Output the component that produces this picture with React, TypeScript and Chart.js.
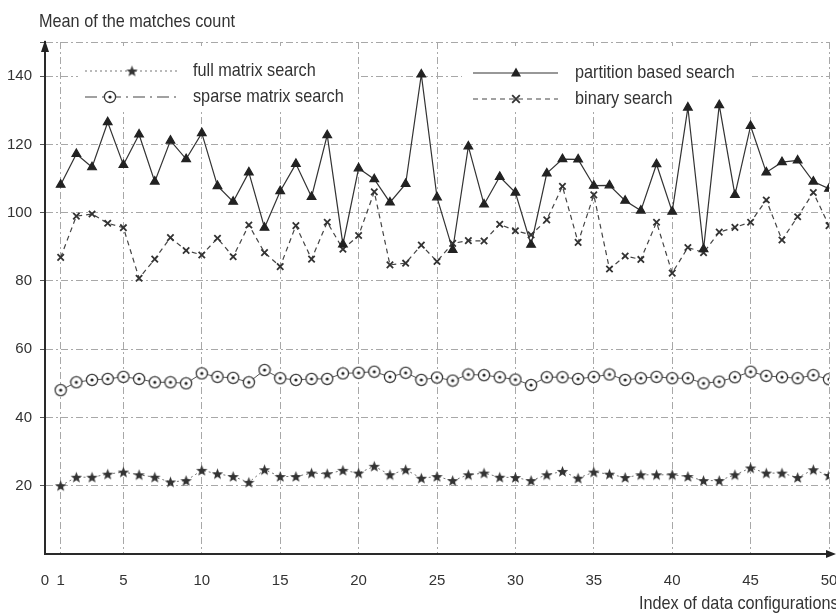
import React, { useEffect, useRef } from "react";
import { Chart, registerables } from "chart.js";

Chart.register(...registerables);

const IDX = [1, 2, 3, 4, 5, 6, 7, 8, 9, 10, 11, 12, 13, 14, 15, 16, 17, 18, 19, 20, 21, 22, 23, 24, 25, 26, 27, 28, 29, 30, 31, 32, 33, 34, 35, 36, 37, 38, 39, 40, 41, 42, 43, 44, 45, 46, 47, 48, 49, 50];

const FULL = [20.0, 22.5, 22.5, 23.4, 24.0, 23.2, 22.5, 21.1, 21.5, 24.5,
  23.5, 22.7, 21.0, 24.7, 22.7, 22.7, 23.7, 23.5, 24.5, 23.7,
  25.7, 23.2, 24.7, 22.2, 22.7, 21.5, 23.2, 23.7, 22.5, 22.4,
  21.5, 23.2, 24.2, 22.2, 24.0, 23.4, 22.4, 23.2, 23.2, 23.2,
  22.7, 21.5, 21.5, 23.2, 25.2, 23.7, 23.7, 22.4, 24.7, 23.0];

const SPARSE = [48.0, 50.3, 51.0, 51.3, 51.9, 51.3, 50.3, 50.3, 50.0, 52.9,
  51.9, 51.6, 50.3, 53.9, 51.5, 51.0, 51.3, 51.3, 52.9, 53.1,
  53.4, 51.9, 53.1, 51.0, 51.7, 50.8, 52.6, 52.4, 51.8, 51.1,
  49.5, 51.8, 51.8, 51.3, 51.9, 52.6, 51.0, 51.5, 51.9, 51.5,
  51.5, 50.0, 50.5, 51.8, 53.4, 52.2, 51.8, 51.5, 52.4, 51.2];

const PARTITION = [108.2, 117.2, 113.3, 126.5, 114.0, 122.9, 109.1, 121.1, 115.7, 123.3,
  107.8, 103.2, 111.8, 95.6, 106.3, 114.3, 104.6, 122.7, 90.7, 113.0,
  109.8, 103.0, 108.4, 140.5, 104.5, 89.1, 119.4, 102.4, 110.5, 105.9,
  90.6, 111.5, 115.7, 115.6, 107.9, 108.0, 103.5, 100.6, 114.2, 100.3,
  130.8, 89.3, 131.5, 105.2, 125.4, 111.8, 114.8, 115.3, 109.1, 107.0];

const BINARY = [86.9, 99.0, 99.6, 96.9, 95.6, 80.8, 86.4, 92.7, 88.9, 87.6,
  92.5, 87.1, 96.4, 88.3, 84.2, 96.2, 86.4, 97.2, 89.3, 93.3,
  106.1, 84.7, 85.2, 90.5, 85.7, 91.0, 91.8, 91.7, 96.6, 94.7,
  93.5, 97.9, 107.7, 91.3, 105.2, 83.5, 87.3, 86.3, 97.2, 82.3,
  89.8, 88.3, 94.3, 95.7, 97.2, 103.7, 92.0, 98.8, 105.9, 96.2];

const SERIES_NAMES = ["full matrix search", "sparse matrix search", "partition based search", "binary search"];
const X_TICKS = [0, 1, 5, 10, 15, 20, 25, 30, 35, 40, 45, 50];
const Y_TICKS = [20, 40, 60, 80, 100, 120, 140];
const Y_MAX = 150;
const X_TITLE = "Index of data configurations";
const Y_TITLE = "Mean of the matches count";

const FONT = "'Liberation Sans', Arial, sans-serif";
const INK = "#2a2a2a";
const GRID = "#a8a8a8";
const NARROW = 0.855;

function makeStar(): HTMLCanvasElement {
  const c = document.createElement("canvas");
  c.width = 13; c.height = 13;
  const g = c.getContext("2d")!;
  g.fillStyle = "#333";
  g.beginPath();
  for (let k = 0; k < 10; k++) {
    const r = k % 2 === 0 ? 6 : 2.5;
    const a = -Math.PI / 2 + (k * Math.PI) / 5;
    const px = 6.5 + r * Math.cos(a);
    const py = 7 + r * Math.sin(a);
    if (k === 0) g.moveTo(px, py); else g.lineTo(px, py);
  }
  g.closePath();
  g.fill();
  return c;
}

function makeCircleDot(): HTMLCanvasElement {
  const c = document.createElement("canvas");
  c.width = 14; c.height = 14;
  const g = c.getContext("2d")!;
  g.fillStyle = "#fff";
  g.strokeStyle = "#3a3a3a";
  g.lineWidth = 1.3;
  g.beginPath();
  g.arc(7, 7, 5.6, 0, Math.PI * 2);
  g.fill();
  g.stroke();
  g.fillStyle = "#222";
  g.beginPath();
  g.arc(7, 7, 1.6, 0, Math.PI * 2);
  g.fill();
  return c;
}

function narrowText(ctx: CanvasRenderingContext2D, text: string, x: number, y: number, size: number) {
  ctx.save();
  ctx.translate(x, y);
  ctx.scale(NARROW, 1);
  ctx.font = `${size}px ${FONT}`;
  ctx.fillStyle = "#333";
  ctx.textAlign = "left";
  ctx.textBaseline = "middle";
  ctx.fillText(text, 0, 0);
  ctx.restore();
}

export default function App() {
  const ref = useRef<HTMLCanvasElement | null>(null);

  useEffect(() => {
    if (!ref.current) return;
    const star = makeStar();
    const circ = makeCircleDot();
    const pts = (arr: number[]) => IDX.map((x, i) => ({ x, y: arr[i] }));

    const drawMarker = (ctx: CanvasRenderingContext2D, kind: string, x: number, y: number) => {
      if (kind === "star") ctx.drawImage(star, x - 6.5, y - 6.5);
      else if (kind === "circ") ctx.drawImage(circ, x - 7, y - 7);
      else if (kind === "tri") {
        ctx.fillStyle = "#222";
        ctx.beginPath();
        ctx.moveTo(x, y - 5.5);
        ctx.lineTo(x + 5, y + 3.5);
        ctx.lineTo(x - 5, y + 3.5);
        ctx.closePath();
        ctx.fill();
      } else {
        ctx.strokeStyle = "#333";
        ctx.lineWidth = 1.8;
        ctx.setLineDash([]);
        ctx.beginPath();
        ctx.moveTo(x - 3.8, y - 3.8); ctx.lineTo(x + 3.8, y + 3.8);
        ctx.moveTo(x + 3.8, y - 3.8); ctx.lineTo(x - 3.8, y + 3.8);
        ctx.stroke();
      }
    };

    const legendItems = [
      { name: SERIES_NAMES[0], kind: "star", dash: [2, 3], color: "#777", x0: 85, x1: 178, mx: 132, tx: 193, y: 71 },
      { name: SERIES_NAMES[1], kind: "circ", dash: [12, 5, 2, 5], color: "#444", x0: 85, x1: 178, mx: 110, tx: 193, y: 97 },
      { name: SERIES_NAMES[2], kind: "tri", dash: [], color: "#333", x0: 473, x1: 558, mx: 516, tx: 575, y: 73 },
      { name: SERIES_NAMES[3], kind: "cross", dash: [5, 4], color: "#444", x0: 473, x1: 558, mx: 516, tx: 575, y: 99 },
    ];

    const deco = {
      id: "deco",
      beforeDatasetsDraw(chart: any) {
        const ctx = chart.ctx as CanvasRenderingContext2D;
        ctx.save();
        ctx.fillStyle = "#fff";
        ctx.fillRect(78, 46, 280, 66);
        ctx.fillRect(462, 46, 290, 66);
        for (const it of legendItems) {
          ctx.strokeStyle = it.color;
          ctx.lineWidth = 1.2;
          ctx.setLineDash(it.dash);
          ctx.beginPath();
          ctx.moveTo(it.x0, it.y);
          ctx.lineTo(it.x1, it.y);
          ctx.stroke();
          ctx.setLineDash([]);
          drawMarker(ctx, it.kind, it.mx, it.y);
          narrowText(ctx, it.name, it.tx, it.y, 19);
        }
        ctx.restore();
      },
      afterDraw(chart: any) {
        const ctx = chart.ctx as CanvasRenderingContext2D;
        const a = chart.chartArea;
        ctx.save();
        ctx.fillStyle = "#222";
        ctx.beginPath();
        ctx.moveTo(a.left, a.top - 2);
        ctx.lineTo(a.left - 4, a.top + 10);
        ctx.lineTo(a.left + 4, a.top + 10);
        ctx.closePath();
        ctx.fill();
        ctx.beginPath();
        ctx.moveTo(836, a.bottom);
        ctx.lineTo(826, a.bottom - 4);
        ctx.lineTo(826, a.bottom + 4);
        ctx.closePath();
        ctx.fill();
        ctx.restore();
        narrowText(ctx, Y_TITLE, 39, 22, 19);
        narrowText(ctx, X_TITLE, 639, 604, 19);
      },
    };

    const chart = new Chart(ref.current, {
      type: "line",
      data: {
        datasets: [
          {
            label: SERIES_NAMES[0],
            data: pts(FULL),
            borderColor: "#777",
            borderWidth: 1,
            borderDash: [2, 3],
            pointStyle: star as any,
            pointRadius: 6,
            tension: 0,
          },
          {
            label: SERIES_NAMES[1],
            data: pts(SPARSE),
            borderColor: "#555",
            borderWidth: 1,
            pointStyle: circ as any,
            pointRadius: 6,
            tension: 0,
          },
          {
            label: SERIES_NAMES[2],
            data: pts(PARTITION),
            borderColor: "#333",
            borderWidth: 1.2,
            pointStyle: "triangle",
            pointRadius: 5,
            pointBackgroundColor: "#222",
            pointBorderColor: "#222",
            tension: 0,
          },
          {
            label: SERIES_NAMES[3],
            data: pts(BINARY),
            borderColor: "#444",
            borderWidth: 1.2,
            borderDash: [5, 4],
            pointStyle: "crossRot",
            pointRadius: 4.5,
            pointBorderWidth: 1.8,
            pointBorderColor: "#333",
            tension: 0,
          },
        ],
      },
      options: {
        animation: false,
        responsive: false,
        events: [],
        layout: { padding: { top: 42, right: 3, left: 0, bottom: 0 } },
        plugins: { legend: { display: false }, tooltip: { enabled: false } },
        scales: {
          x: {
            type: "linear",
            min: 0,
            max: 50,
            afterBuildTicks: (s: any) => { s.ticks = X_TICKS.map((v) => ({ value: v })); },
            afterFit: (s: any) => { s.height = 60; s.paddingLeft = 0; s.paddingRight = 0; },
            ticks: { color: "#333", font: { family: FONT, size: 15 }, padding: 18, autoSkip: false, maxRotation: 0, callback: (v: any) => String(v) },
            grid: {
              drawTicks: false,
              color: (c: any) => (c.tick && c.tick.value === 0 ? "rgba(0,0,0,0)" : GRID),
              lineWidth: 1,
            },
            border: { display: true, color: INK, width: 2, dash: [7, 3, 2, 3] },
          },
          y: {
            min: 0,
            max: Y_MAX,
            afterBuildTicks: (s: any) => { s.ticks = [...Y_TICKS, Y_MAX].map((v) => ({ value: v })); },
            afterFit: (s: any) => { s.width = 45; s.paddingTop = 0; s.paddingBottom = 0; },
            ticks: { color: "#333", font: { family: FONT, size: 15 }, padding: 8, callback: (v: any) => (v === Y_MAX ? "" : String(v)) },
            grid: {
              drawTicks: true,
              tickLength: 5,
              color: GRID,
              tickColor: "#555",
              tickBorderDash: [],
              lineWidth: 1,
            } as any,
            border: { display: true, color: INK, width: 2, dash: [7, 3, 2, 3] },
          },
        },
      },
      plugins: [deco],
    });
    return () => chart.destroy();
  }, []);

  return (
    <div style={{ position: "absolute", left: 0, top: 0, width: 836, height: 614, background: "#fff" }}>
      <canvas ref={ref} width={836} height={614} style={{ width: 836, height: 614, display: "block" }} />
    </div>
  );
}
